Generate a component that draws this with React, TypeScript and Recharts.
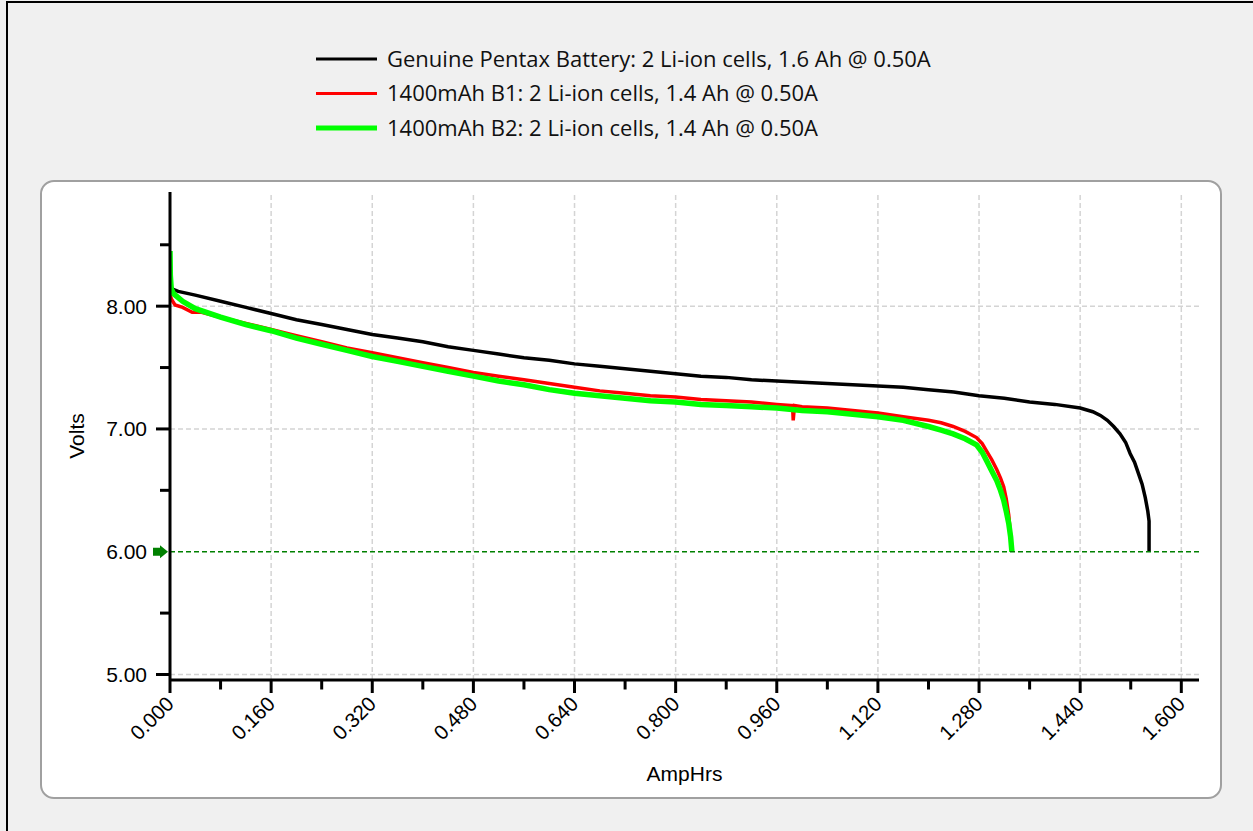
import React from "react";
import { LineChart, Line, XAxis, YAxis, ReferenceLine } from "recharts";

// discharge curves (AmpHrs vs Volts)
const genuineAh = [0, 0.004, 0.013, 0.04, 0.08, 0.12, 0.16, 0.2, 0.24, 0.28, 0.32, 0.36, 0.4, 0.44, 0.48, 0.52, 0.56, 0.6, 0.64, 0.68, 0.72, 0.76, 0.8, 0.84, 0.88, 0.92, 0.96, 1.0, 1.04, 1.08, 1.12, 1.16, 1.2, 1.24, 1.28, 1.32, 1.36, 1.4, 1.44, 1.46, 1.472, 1.483, 1.493, 1.503, 1.512, 1.519, 1.526, 1.532, 1.538, 1.543, 1.547, 1.549, 1.549];
const genuineV = [8.17, 8.14, 8.12, 8.09, 8.04, 7.99, 7.94, 7.89, 7.85, 7.81, 7.77, 7.74, 7.71, 7.67, 7.64, 7.61, 7.58, 7.56, 7.53, 7.51, 7.49, 7.47, 7.45, 7.43, 7.42, 7.4, 7.39, 7.38, 7.37, 7.36, 7.35, 7.34, 7.32, 7.3, 7.27, 7.25, 7.22, 7.2, 7.17, 7.14, 7.11, 7.07, 7.02, 6.96, 6.89, 6.8, 6.73, 6.64, 6.55, 6.44, 6.33, 6.25, 6.0];

const b1Ah = [0, 0.003, 0.008, 0.02, 0.035, 0.05, 0.08, 0.12, 0.16, 0.2, 0.24, 0.28, 0.32, 0.36, 0.4, 0.44, 0.48, 0.52, 0.56, 0.6, 0.64, 0.68, 0.72, 0.76, 0.8, 0.84, 0.88, 0.92, 0.96, 0.985, 0.986, 0.988, 1.0, 1.04, 1.08, 1.12, 1.16, 1.2, 1.22, 1.239, 1.258, 1.276, 1.285, 1.292, 1.3, 1.308, 1.314, 1.319, 1.323, 1.327, 1.33, 1.331];
const b1V = [8.09, 8.05, 8.01, 7.99, 7.95, 7.95, 7.91, 7.86, 7.81, 7.76, 7.71, 7.66, 7.62, 7.58, 7.54, 7.5, 7.46, 7.43, 7.4, 7.37, 7.34, 7.31, 7.29, 7.27, 7.26, 7.24, 7.23, 7.22, 7.2, 7.19, 7.07, 7.19, 7.18, 7.17, 7.15, 7.13, 7.1, 7.07, 7.05, 7.02, 6.98, 6.93, 6.88, 6.82, 6.75, 6.67, 6.6, 6.53, 6.43, 6.3, 6.12, 6.0];

const b2Ah = [0, 0.0005, 0.002, 0.006, 0.02, 0.04, 0.08, 0.12, 0.16, 0.2, 0.24, 0.28, 0.32, 0.36, 0.4, 0.44, 0.48, 0.52, 0.56, 0.6, 0.64, 0.68, 0.72, 0.76, 0.8, 0.84, 0.88, 0.92, 0.96, 1.0, 1.04, 1.08, 1.12, 1.16, 1.2, 1.22, 1.239, 1.258, 1.276, 1.285, 1.292, 1.3, 1.308, 1.314, 1.319, 1.323, 1.327, 1.33, 1.332];
const b2V = [8.45, 8.25, 8.14, 8.1, 8.04, 7.98, 7.91, 7.85, 7.8, 7.74, 7.69, 7.64, 7.59, 7.55, 7.51, 7.47, 7.43, 7.39, 7.36, 7.32, 7.29, 7.27, 7.25, 7.23, 7.22, 7.2, 7.19, 7.18, 7.17, 7.15, 7.14, 7.12, 7.1, 7.07, 7.02, 6.99, 6.96, 6.92, 6.87, 6.81, 6.74, 6.66, 6.58, 6.5, 6.42, 6.33, 6.23, 6.12, 6.0];

const seriesNames = [
  "Genuine Pentax Battery: 2 Li-ion cells, 1.6 Ah @ 0.50A",
  "1400mAh B1: 2 Li-ion cells, 1.4 Ah @ 0.50A",
  "1400mAh B2: 2 Li-ion cells, 1.4 Ah @ 0.50A",
];

const xTicks = [0, 0.08, 0.16, 0.24, 0.32, 0.4, 0.48, 0.56, 0.64, 0.72, 0.8, 0.88, 0.96, 1.04, 1.12, 1.2, 1.28, 1.36, 1.44, 1.52, 1.6];
const xGrid = [0.16, 0.32, 0.48, 0.64, 0.8, 0.96, 1.12, 1.28, 1.44, 1.6];
const yTicks = [5, 5.5, 6, 6.5, 7, 7.5, 8, 8.5];
const yGrid = [5, 7, 8];
const cutoffVolts = 6;

const toRows = (ah: number[], v: number[]) => ah.map((a, i) => ({ ah: a, v: v[i] }));

const series = [
  { name: seriesNames[0], color: "#000000", width: 3.5, legendWidth: 3, data: toRows(genuineAh, genuineV) },
  { name: seriesNames[1], color: "#ff0000", width: 3.5, legendWidth: 3, data: toRows(b1Ah, b1V) },
  { name: seriesNames[2], color: "#00ff00", width: 5.5, legendWidth: 5, data: toRows(b2Ah, b2V) },
];

const axisFont = '"Liberation Sans", Arial, sans-serif';

function XTick(props: any) {
  const { x, y, payload } = props;
  const major = Math.round(payload.value / 0.08) % 2 === 0;
  const ly = y + 20;
  return (
    <g>
      <line x1={x} x2={x} y1={y} y2={y + (major ? 13 : 9.5)} stroke="#000" strokeWidth={3} />
      {major && (
        <text
          x={x}
          y={ly}
          dy="0.35em"
          textAnchor="end"
          transform={`rotate(-45 ${x} ${ly})`}
          fontFamily={axisFont}
          fontSize={20.5}
          fill="#000"
        >
          {payload.value.toFixed(3)}
        </text>
      )}
    </g>
  );
}

function YTick(props: any) {
  const { x, y, payload } = props;
  const v = payload.value;
  const major = Number.isInteger(v);
  return (
    <g>
      {v !== cutoffVolts && (
        <line x1={x - (major ? 14 : 10)} x2={x} y1={y} y2={y} stroke="#000" strokeWidth={3} />
      )}
      {major && (
        <text x={x - 23} y={y} dy="0.35em" textAnchor="end" fontFamily={axisFont} fontSize={21} fill="#000">
          {v.toFixed(2)}
        </text>
      )}
    </g>
  );
}

function CutoffArrow(props: any) {
  const { x, y } = props.viewBox;
  return (
    <path
      d={`M${x - 17},${y - 4} L${x - 10},${y - 4} L${x - 10},${y - 6.5} L${x - 2},${y} L${x - 10},${y + 6.5} L${x - 10},${y + 4} L${x - 17},${y + 4} Z`}
      fill="#008000"
    />
  );
}

export default function App() {
  return (
    <div style={{ position: "absolute", left: 0, top: 0, width: 1253, height: 831, background: "#f0f0f0", overflow: "hidden" }}>
      <div style={{ position: "absolute", left: 6, top: 1, right: 0, bottom: 0, borderLeft: "2px solid #000", borderTop: "2px solid #000" }} />
      <div
        style={{
          position: "absolute",
          left: 40,
          top: 180,
          width: 1182,
          height: 619,
          boxSizing: "border-box",
          background: "#fff",
          border: "2px solid #a0a0a0",
          borderRadius: 14,
        }}
      />
      <svg style={{ position: "absolute", left: 0, top: 0 }} width={1253} height={160}>
        {series.map((s, i) => {
          const cy = 59 + i * 34.5;
          return (
            <g key={s.name}>
              <line x1={316} x2={377} y1={cy} y2={cy} stroke={s.color} strokeWidth={s.legendWidth} />
              <text x={387} y={cy + 7.5} fontFamily='"Open Sans", "Noto Sans", sans-serif' fontSize={22} fill="#111">
                {s.name}
              </text>
            </g>
          );
        })}
      </svg>
      <div style={{ position: "absolute", left: 0, top: 0 }}>
        <LineChart width={1253} height={831} margin={{ top: 192, right: 54, left: 110, bottom: 91 }}>
          <XAxis
            dataKey="ah"
            type="number"
            domain={[0, 1.628]}
            ticks={xTicks}
            interval={0}
            height={60}
            tickSize={0}
            tickMargin={0}
            tickLine={false}
            axisLine={{ stroke: "#000", strokeWidth: 3 }}
            tick={<XTick />}
            allowDataOverflow
            label={{
              content: () => (
                <text x={684.5} y={774} dy="0.35em" textAnchor="middle" fontFamily={axisFont} fontSize={21} fill="#000">
                  AmpHrs
                </text>
              ),
            }}
          />
          <YAxis
            type="number"
            domain={[4.955, 8.93]}
            ticks={yTicks}
            interval={0}
            width={60}
            tickSize={0}
            tickMargin={0}
            tickLine={false}
            axisLine={{ stroke: "#000", strokeWidth: 3 }}
            tick={<YTick />}
            allowDataOverflow
            label={{
              content: () => (
                <text
                  x={77}
                  y={436}
                  dy="0.35em"
                  textAnchor="middle"
                  transform="rotate(-90 77 436)"
                  fontFamily={axisFont}
                  fontSize={21}
                  fill="#000"
                >
                  Volts
                </text>
              ),
            }}
          />
          {xGrid.map((v) => (
            <ReferenceLine key={`gx${v}`} x={v} stroke="#d4d4d4" strokeWidth={1.5} strokeDasharray="5 3" />
          ))}
          {yGrid.map((v) => (
            <ReferenceLine key={`gy${v}`} y={v} stroke="#d4d4d4" strokeWidth={1.5} strokeDasharray="5 3" />
          ))}
          {series.map((s) => (
            <Line
              key={s.name}
              data={s.data}
              dataKey="v"
              type="linear"
              stroke={s.color}
              strokeWidth={s.width}
              dot={false}
              activeDot={false}
              isAnimationActive={false}
            />
          ))}
          <ReferenceLine
            y={cutoffVolts}
            stroke="#008000"
            strokeWidth={1.5}
            strokeDasharray="5 3"
            label={{ content: (p: any) => <CutoffArrow {...p} /> }}
          />
        </LineChart>
      </div>
    </div>
  );
}
